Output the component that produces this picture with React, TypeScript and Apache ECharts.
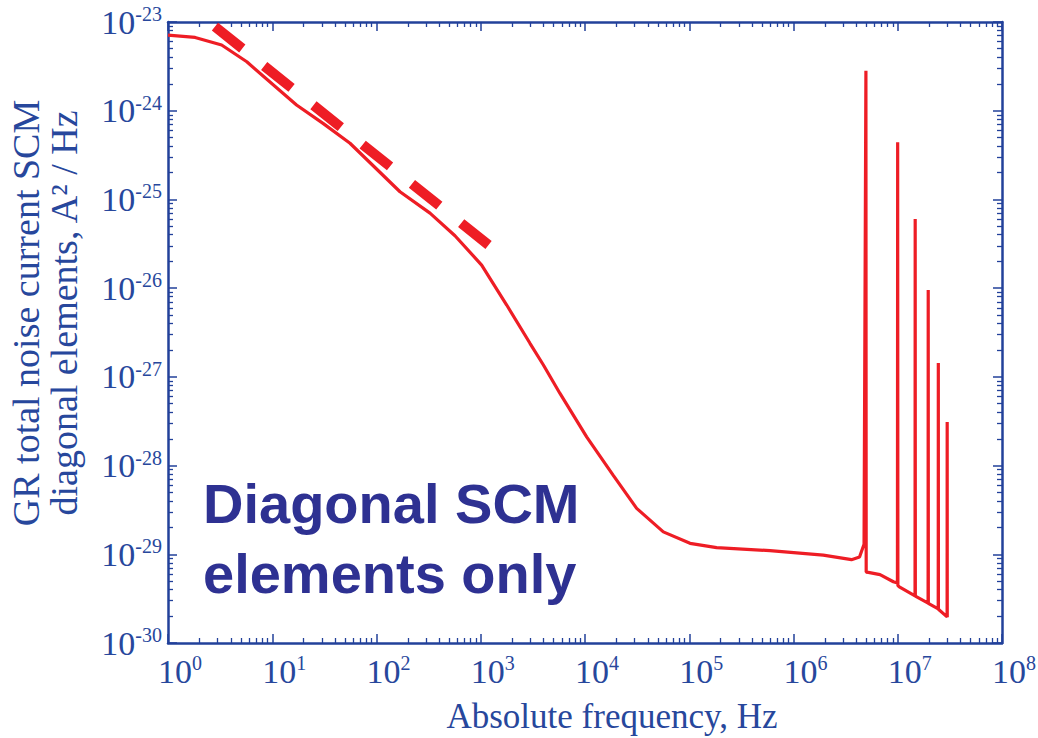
import React, { useEffect, useRef } from "react";
import * as echarts from "echarts";

// GR total noise current spectrum (diagonal SCM elements), A^2/Hz vs frequency in Hz
const freqHz = [
  1, 1.82, 3.27, 5.7, 17.1, 30.7, 55.7, 168, 326, 566,
  1020, 1774, 2966, 3990, 5754, 10370, 18600, 31300, 56400, 101700,
  183000, 595000, 1.93e6, 3.6e6, 4.3e6, 4.75e6, 4.95e6, 4.98e6, 5.22e6, 6.76e6,
  9.08e6, 9.93e6, 9.98e6, 1.003e7, 1.035e7, 1.465e7, 1.47e7, 1.475e7, 1.955e7, 1.96e7,
  1.965e7, 2.445e7, 2.45e7, 2.455e7, 2.975e7, 2.98e7, 2.985e7,
];
const noisePsd = [
  7.1e-24, 6.7e-24, 5.5e-24, 3.56e-24, 1.16e-24, 7.2e-25, 4.3e-25, 1.22e-25, 7.0e-26, 3.9e-26,
  1.82e-26, 6.45e-27, 2.39e-27, 1.36e-27, 6.5e-28, 2.11e-28, 7.8e-29, 3.29e-29, 1.79e-29, 1.33e-29,
  1.19e-29, 1.10e-29, 9.8e-30, 8.7e-30, 9.3e-30, 1.3e-29, 2.82e-24, 6.3e-30, 6.25e-30, 5.9e-30,
  4.9e-30, 4.75e-30, 4.4e-25, 4.45e-30, 4.3e-30, 3.4e-30, 6.0e-26, 3.38e-30, 2.82e-30, 9.5e-27,
  2.8e-30, 2.42e-30, 1.43e-27, 2.4e-30, 1.97e-30, 3.1e-28, 1.95e-30,
];

// 1/f guide line
const guideFreqHz = [2.82, 1247];
const guidePsd = [8.85e-24, 2.93e-26];

// decade tick exponents
const xExponents = [0, 1, 2, 3, 4, 5, 6, 7, 8];
const yExponents = [-30, -29, -28, -27, -26, -25, -24, -23];
const minorMultipliers = [2, 3, 4, 5, 6, 7, 8, 9];

// The y axis works in units of 1e-30 A^2/Hz so the log scale stays in a
// comfortable floating-point range; labels still show the full exponent.
const PSD_UNIT_EXP = -30;
const toPsdUnits = (v: number) => v * Math.pow(10, -PSD_UNIT_EXP);

const AXIS_BLUE = "#22419a";
const LABEL_BLUE = "#27479c";
const TITLE_NAVY = "#2e3192";
const RED = "#ee1d25";
const SERIF = "'Liberation Serif', 'Times New Roman', serif";
const SANS = "'Liberation Sans', Arial, sans-serif";

const labelRich = {
  b: { fontFamily: SERIF, fontSize: 34, color: LABEL_BLUE, lineHeight: 36 },
  e: { fontFamily: SERIF, fontSize: 20, color: LABEL_BLUE, lineHeight: 24, verticalAlign: "top" },
};

type AxisMode = "labeled" | "major" | "minor";

function makeAxis(kind: "x" | "y", position: string, mode: AxisMode) {
  const exps = kind === "x" ? xExponents : yExponents;
  const shift = kind === "x" ? 0 : PSD_UNIT_EXP;
  // exponents relative to the axis units
  const rel = exps.map((e) => e - shift);
  const majors = rel.map((e) => Math.pow(10, e));
  const minors: number[] = [];
  for (let i = 0; i < rel.length - 1; i++) {
    for (const m of minorMultipliers) minors.push(m * Math.pow(10, rel[i]));
  }
  const isMinor = mode === "minor";
  return {
    type: "log",
    logBase: 10,
    position,
    min: majors[0],
    max: majors[majors.length - 1],
    splitNumber: exps.length - 1,
    axisLine: {
      show: !isMinor,
      onZero: false,
      lineStyle: { color: AXIS_BLUE, width: 2.5 },
    },
    axisTick: {
      show: true,
      inside: true,
      length: isMinor ? 5 : 9,
      customValues: isMinor ? minors : majors,
      lineStyle: { color: AXIS_BLUE, width: isMinor ? 1.3 : 1.5 },
    },
    minorTick: { show: false },
    splitLine: { show: false },
    axisLabel:
      mode === "labeled"
        ? {
            show: true,
            customValues: majors,
            showMinLabel: true,
            showMaxLabel: true,
            hideOverlap: false,
            margin: kind === "x" ? 10 : 6,
            padding: kind === "x" ? [0, 0, 0, 24] : 0,
            formatter: (v: number) => `{b|10}{e|${Math.round(Math.log10(v)) + shift}}`,
            rich: labelRich,
          }
        : { show: false },
  };
}

export default function App() {
  const ref = useRef<HTMLDivElement>(null);

  useEffect(() => {
    if (!ref.current) return;
    const chart = echarts.init(ref.current, undefined, { renderer: "svg" });

    const curve = freqHz.map((f, i) => [f, toPsdUnits(noisePsd[i])]);
    const guide = guideFreqHz.map((f, i) => [f, toPsdUnits(guidePsd[i])]);

    chart.setOption({
      animation: false,
      backgroundColor: "#ffffff",
      grid: {
        left: 168,
        top: 22,
        width: 834,
        height: 621,
        containLabel: false,
        outerBoundsMode: "none",
      },
      xAxis: [
        makeAxis("x", "bottom", "labeled"),
        makeAxis("x", "top", "major"),
        makeAxis("x", "bottom", "minor"),
        makeAxis("x", "top", "minor"),
      ],
      yAxis: [
        makeAxis("y", "left", "labeled"),
        makeAxis("y", "right", "major"),
        makeAxis("y", "left", "minor"),
        makeAxis("y", "right", "minor"),
      ],
      series: [
        {
          type: "line",
          xAxisIndex: 0,
          yAxisIndex: 0,
          data: curve,
          symbol: "none",
          clip: false,
          lineStyle: { color: RED, width: 3.2 },
        },
        {
          type: "line",
          xAxisIndex: 0,
          yAxisIndex: 0,
          data: guide,
          symbol: "none",
          clip: false,
          lineStyle: { color: RED, width: 10, type: [35, 28], cap: "butt" },
        },
      ],
      graphic: [
        {
          type: "text",
          x: 45,
          y: 313,
          rotation: Math.PI / 2,
          style: {
            text: "GR total noise current SCM\ndiagonal elements, A² / Hz",
            font: `38px ${SERIF}`,
            fill: LABEL_BLUE,
            align: "center",
            verticalAlign: "middle",
            lineHeight: 38,
          },
        },
        {
          type: "text",
          x: 612,
          y: 716,
          style: {
            text: "Absolute frequency, Hz",
            font: `35px ${SERIF}`,
            fill: LABEL_BLUE,
            align: "center",
            verticalAlign: "middle",
          },
        },
        {
          type: "text",
          x: 203,
          y: 468,
          style: {
            text: "Diagonal SCM\nelements only",
            font: `bold 56px ${SANS}`,
            fill: TITLE_NAVY,
            align: "left",
            verticalAlign: "top",
            lineHeight: 70,
          },
        },
      ],
    });

    return () => chart.dispose();
  }, []);

  return (
    <div
      ref={ref}
      style={{ position: "fixed", left: 0, top: 0, width: 1038, height: 738, background: "#fff" }}
    />
  );
}
